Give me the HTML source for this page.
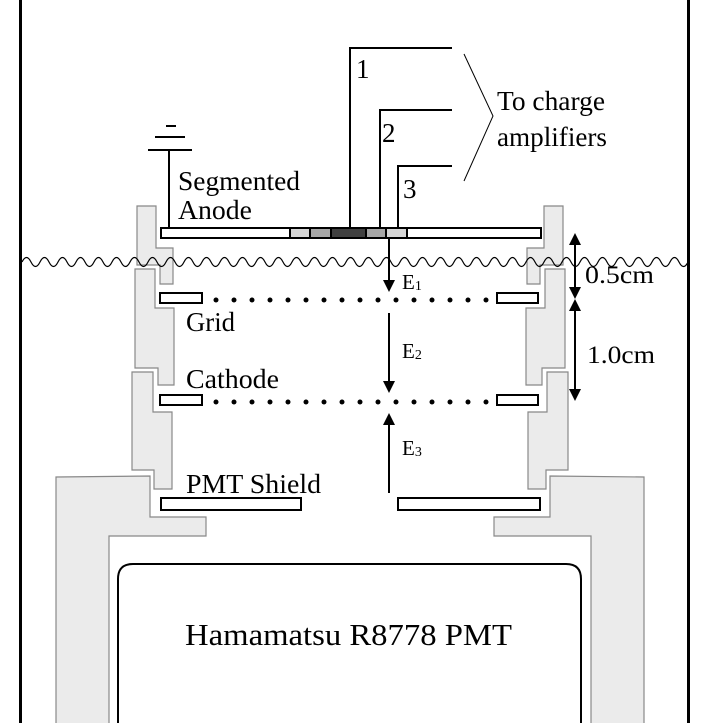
<!DOCTYPE html>
<html><head><meta charset="utf-8"><style>
html,body{margin:0;padding:0;background:#fff;}
svg{display:block;}
text{font-family:"Liberation Serif",serif;fill:#000;}
</style></head><body>
<svg width="702" height="723" viewBox="0 0 702 723" xmlns="http://www.w3.org/2000/svg">
<defs><clipPath id="cw"><rect x="22" y="240" width="665" height="40"/></clipPath></defs>
<rect x="19" y="0" width="3" height="723" fill="#000"/>
<rect x="687" y="0" width="3" height="723" fill="#000"/>

<g fill="#ebebeb" stroke="#888" stroke-width="1.2">
<polygon points="137,206 156,206 156,248 173,248 173,284 160,284 160,265 137,265"/>
<polygon points="135,269 155,269 155,308 174,308 174,385 158,385 158,368 135,368"/>
<polygon points="132,372 153,372 153,412 172,412 172,489 154,489 154,470 132,470"/>
<polygon points="56,477 150,476 150,517 206,517 206,536 109,536 109,730 56,730"/>
<g transform="translate(700,0) scale(-1,1)">
<polygon points="137,206 156,206 156,248 173,248 173,284 160,284 160,265 137,265"/>
<polygon points="135,269 155,269 155,308 174,308 174,385 158,385 158,368 135,368"/>
<polygon points="132,372 153,372 153,412 172,412 172,489 154,489 154,470 132,470"/>
<polygon points="56,477 150,476 150,517 206,517 206,536 109,536 109,730 56,730"/>
</g>
</g>

<path clip-path="url(#cw)" d="M22,262 q4.5,-9 9,0 q4.5,9 9,0 q4.5,-9 9,0 q4.5,9 9,0 q4.5,-9 9,0 q4.5,9 9,0 q4.5,-9 9,0 q4.5,9 9,0 q4.5,-9 9,0 q4.5,9 9,0 q4.5,-9 9,0 q4.5,9 9,0 q4.5,-9 9,0 q4.5,9 9,0 q4.5,-9 9,0 q4.5,9 9,0 q4.5,-9 9,0 q4.5,9 9,0 q4.5,-9 9,0 q4.5,9 9,0 q4.5,-9 9,0 q4.5,9 9,0 q4.5,-9 9,0 q4.5,9 9,0 q4.5,-9 9,0 q4.5,9 9,0 q4.5,-9 9,0 q4.5,9 9,0 q4.5,-9 9,0 q4.5,9 9,0 q4.5,-9 9,0 q4.5,9 9,0 q4.5,-9 9,0 q4.5,9 9,0 q4.5,-9 9,0 q4.5,9 9,0 q4.5,-9 9,0 q4.5,9 9,0 q4.5,-9 9,0 q4.5,9 9,0 q4.5,-9 9,0 q4.5,9 9,0 q4.5,-9 9,0 q4.5,9 9,0 q4.5,-9 9,0 q4.5,9 9,0 q4.5,-9 9,0 q4.5,9 9,0 q4.5,-9 9,0 q4.5,9 9,0 q4.5,-9 9,0 q4.5,9 9,0 q4.5,-9 9,0 q4.5,9 9,0 q4.5,-9 9,0 q4.5,9 9,0 q4.5,-9 9,0 q4.5,9 9,0 q4.5,-9 9,0 q4.5,9 9,0 q4.5,-9 9,0 q4.5,9 9,0 q4.5,-9 9,0 q4.5,9 9,0 q4.5,-9 9,0 q4.5,9 9,0 q4.5,-9 9,0 q4.5,9 9,0 q4.5,-9 9,0 q4.5,9 9,0 q4.5,-9 9,0 q4.5,9 9,0 q4.5,-9 9,0 q4.5,9 9,0 q4.5,-9 9,0 q4.5,9 9,0 q4.5,-9 9,0 q4.5,9 9,0 q4.5,-9 9,0 q4.5,9 9,0 q4.5,-9 9,0 q4.5,9 9,0" fill="none" stroke="#000" stroke-width="1.2"/>

<g fill="none" stroke="#000" stroke-width="2">
<polyline points="350,229 350,48 452,48"/>
<polyline points="380,229 380,110 452,110"/>
<polyline points="398,229 398,166 452,166"/>
<line x1="169" y1="150" x2="169" y2="229"/>
<line x1="148" y1="150" x2="192" y2="150"/>
<line x1="155" y1="137" x2="185" y2="137"/>
<line x1="166" y1="126" x2="176" y2="126"/>
</g>
<polyline points="464,54 493,116 464,181" fill="none" stroke="#000" stroke-width="1"/>

<rect x="161" y="228" width="380" height="10" fill="#fff" stroke="#000" stroke-width="2"/>
<rect x="290" y="228" width="20" height="10" fill="#d6d6d6" stroke="#000" stroke-width="2"/>
<rect x="310" y="228" width="21" height="10" fill="#a6a6a6" stroke="#000" stroke-width="2"/>
<rect x="331" y="228" width="35" height="10" fill="#404040" stroke="#000" stroke-width="2"/>
<rect x="366" y="228" width="20" height="10" fill="#a6a6a6" stroke="#000" stroke-width="2"/>
<rect x="386" y="228" width="21" height="10" fill="#d6d6d6" stroke="#000" stroke-width="2"/>

<g fill="#fff" stroke="#000" stroke-width="2">
<rect x="160" y="293" width="42" height="10"/>
<rect x="497" y="293" width="41" height="10"/>
<rect x="160" y="395" width="42" height="10"/>
<rect x="497" y="395" width="41" height="10"/>
<rect x="161" y="498" width="140" height="12"/>
<rect x="398" y="498" width="142" height="12"/>
</g>
<g fill="#000">
<circle cx="216" cy="300" r="2.5"/><circle cx="234" cy="300" r="2.5"/><circle cx="252" cy="300" r="2.5"/><circle cx="270" cy="300" r="2.5"/><circle cx="288" cy="300" r="2.5"/><circle cx="306" cy="300" r="2.5"/><circle cx="324" cy="300" r="2.5"/><circle cx="342" cy="300" r="2.5"/><circle cx="360" cy="300" r="2.5"/><circle cx="378" cy="300" r="2.5"/><circle cx="396" cy="300" r="2.5"/><circle cx="414" cy="300" r="2.5"/><circle cx="432" cy="300" r="2.5"/><circle cx="450" cy="300" r="2.5"/><circle cx="468" cy="300" r="2.5"/><circle cx="486" cy="300" r="2.5"/>
<circle cx="216" cy="402" r="2.5"/><circle cx="234" cy="402" r="2.5"/><circle cx="252" cy="402" r="2.5"/><circle cx="270" cy="402" r="2.5"/><circle cx="288" cy="402" r="2.5"/><circle cx="306" cy="402" r="2.5"/><circle cx="324" cy="402" r="2.5"/><circle cx="342" cy="402" r="2.5"/><circle cx="360" cy="402" r="2.5"/><circle cx="378" cy="402" r="2.5"/><circle cx="396" cy="402" r="2.5"/><circle cx="414" cy="402" r="2.5"/><circle cx="432" cy="402" r="2.5"/><circle cx="450" cy="402" r="2.5"/><circle cx="468" cy="402" r="2.5"/><circle cx="486" cy="402" r="2.5"/>
</g>

<g stroke="#000" stroke-width="2">
<line x1="389" y1="238" x2="389" y2="282"/>
<line x1="389" y1="313" x2="389" y2="383"/>
<line x1="389" y1="493" x2="389" y2="423"/>
<line x1="575" y1="243" x2="575" y2="289"/>
<line x1="575" y1="309" x2="575" y2="391"/>
</g>
<g fill="#000">
<polygon points="383,280 395,280 389,292"/>
<polygon points="383,381 395,381 389,393"/>
<polygon points="383,425 395,425 389,413"/>
<polygon points="569,245 581,245 575,233"/>
<polygon points="569,287 581,287 575,299"/>
<polygon points="569,311 581,311 575,299"/>
<polygon points="569,389 581,389 575,401"/>
</g>

<path d="M118,723 L118,579 Q118,564 133,564 L566,564 Q581,564 581,579 L581,723" fill="#fff" stroke="#000" stroke-width="2"/>

<g font-size="27">
<text x="356" y="78">1</text>
<text x="382" y="142">2</text>
<text x="403" y="198">3</text>
<text x="497" y="110" textLength="108" lengthAdjust="spacingAndGlyphs">To charge</text>
<text x="497" y="146" textLength="110" lengthAdjust="spacingAndGlyphs">amplifiers</text>
<text x="178" y="190" textLength="122" lengthAdjust="spacingAndGlyphs">Segmented</text>
<text x="178" y="219" textLength="74" lengthAdjust="spacingAndGlyphs">Anode</text>
<text x="186" y="331" textLength="49" lengthAdjust="spacingAndGlyphs">Grid</text>
<text x="186" y="388" textLength="93" lengthAdjust="spacingAndGlyphs">Cathode</text>
<text x="186" y="493" textLength="135" lengthAdjust="spacingAndGlyphs">PMT Shield</text>
<text x="585" y="283" font-size="25" textLength="69" lengthAdjust="spacingAndGlyphs">0.5cm</text>
<text x="587" y="363" font-size="25" textLength="68" lengthAdjust="spacingAndGlyphs">1.0cm</text>
<text x="185" y="645" font-size="31" textLength="327" lengthAdjust="spacingAndGlyphs">Hamamatsu R8778 PMT</text>
</g>
<g font-size="21">
<text x="402" y="289">E<tspan font-size="14" dy="1">1</tspan></text>
<text x="402" y="358">E<tspan font-size="14" dy="1">2</tspan></text>
<text x="402" y="455">E<tspan font-size="14" dy="1">3</tspan></text>
</g>
</svg>
</body></html>
